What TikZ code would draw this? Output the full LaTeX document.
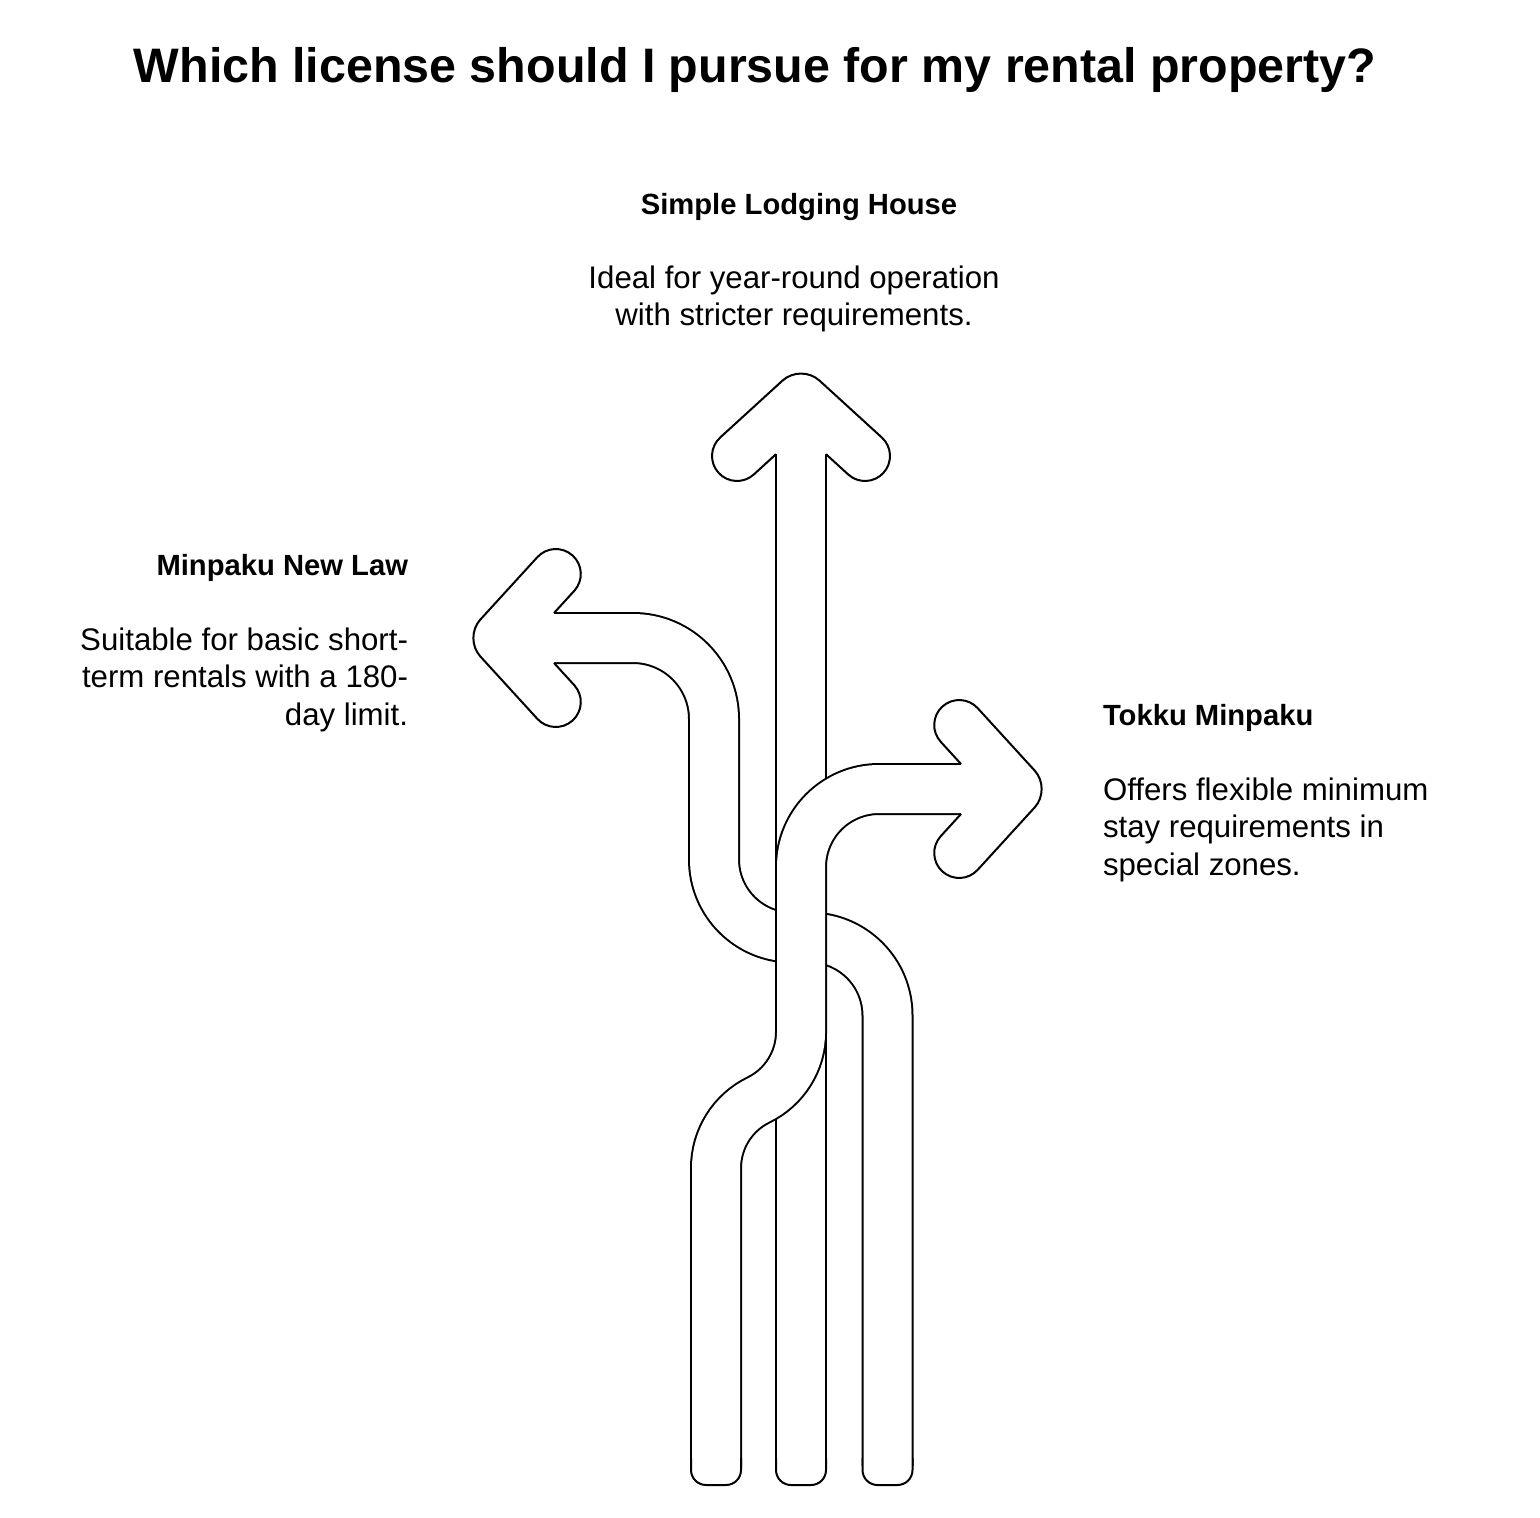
\documentclass[tikz,border=0pt]{standalone}
\usepackage{fontspec}
\setmainfont{Liberation Sans}

\tikzset{
  ribbon/.style={line width=1pt, double=white, double distance=24pt},
  outline/.style={draw=black, line width=1pt, line join=miter},
  title/.style={font=\bfseries\fontsize{24.2}{29}\selectfont},
  heading/.style={font=\bfseries\fontsize{14.6}{17}\selectfont},
  body/.style={font=\fontsize{15.6}{18.75}\selectfont},
}

% arrow head: apex point, direction
\newcommand\licensehead[2]{%
  \begin{scope}[shift={#1}, rotate=#2, rounded corners=12.5pt]
    \fill[white] (-56.7,-25) -- (-93.8,-65.6) -- (-56.9,-99.3) -- (33.8,0)
      -- (-56.9,99.3) -- (-93.8,65.6) -- (-56.7,25);
    \draw[outline] (-56.7,-25) -- (-93.8,-65.6) -- (-56.9,-99.3) -- (33.8,0)
      -- (-56.9,99.3) -- (-93.8,65.6) -- (-56.7,25);
  \end{scope}}
% rounded foot of a ribbon
\newcommand\ribbonfoot[1]{%
  \draw[outline, fill=white, rounded corners=7.5pt] (#1-25,1458) -- (#1-25,1485) -- (#1+25,1485) -- (#1+25,1458);}

\begin{document}
\begin{tikzpicture}[x=0.5pt, y=-0.5pt, inner sep=0pt, outer sep=0pt]
\useasboundingbox (0,0) rectangle (1540,1518);
\node[title, anchor=base] (title) at (755,83) {Which license should I pursue for my rental property?};

% Minpaku New Law
\draw[ribbon] (887.5,1466) -- (887.5,1015.5) arc[start angle=0, end angle=-90, radius=78]
  -- (792,937.5) arc[start angle=90, end angle=180, radius=78]
  -- (714,719) arc[start angle=0, end angle=-90, radius=81] -- (548,638);
\licensehead{(497.3,638)}{180}
\ribbonfoot{887.5}

% Simple Lodging House
\draw[ribbon] (801,1466) -- (801,448);
\licensehead{(801,397.5)}{90}
\ribbonfoot{801}

% Tokku Minpaku
\draw[ribbon] (716,1466) -- (716,1168) arc[start angle=180, end angle=244, radius=75.7]
  arc[start angle=64, end angle=0, radius=75.7]
  -- (801,867) arc[start angle=180, end angle=270, radius=78] -- (967,789);
\licensehead{(1017.7,789)}{0}
\ribbonfoot{716}

\node[heading, anchor=base] (lodging) at (799,215) {Simple Lodging House};
\node[body, align=center, anchor=north] (lodgingtext) at (794,265.5) {Ideal for year-round operation\\with stricter requirements.};
\node[heading, anchor=base east] (minpaku) at (408,575) {Minpaku New Law};
\node[body, align=right, anchor=north east] (minpakutext) at (408,627.5) {Suitable for basic short-\\term rentals with a 180-\\day limit.};
\node[heading, anchor=base west] (tokku) at (1103,725) {Tokku Minpaku};
\node[body, align=left, anchor=north west] (tokkutext) at (1103,777.5) {Offers flexible minimum\\stay requirements in\\special zones.};
\end{tikzpicture}
\end{document}
